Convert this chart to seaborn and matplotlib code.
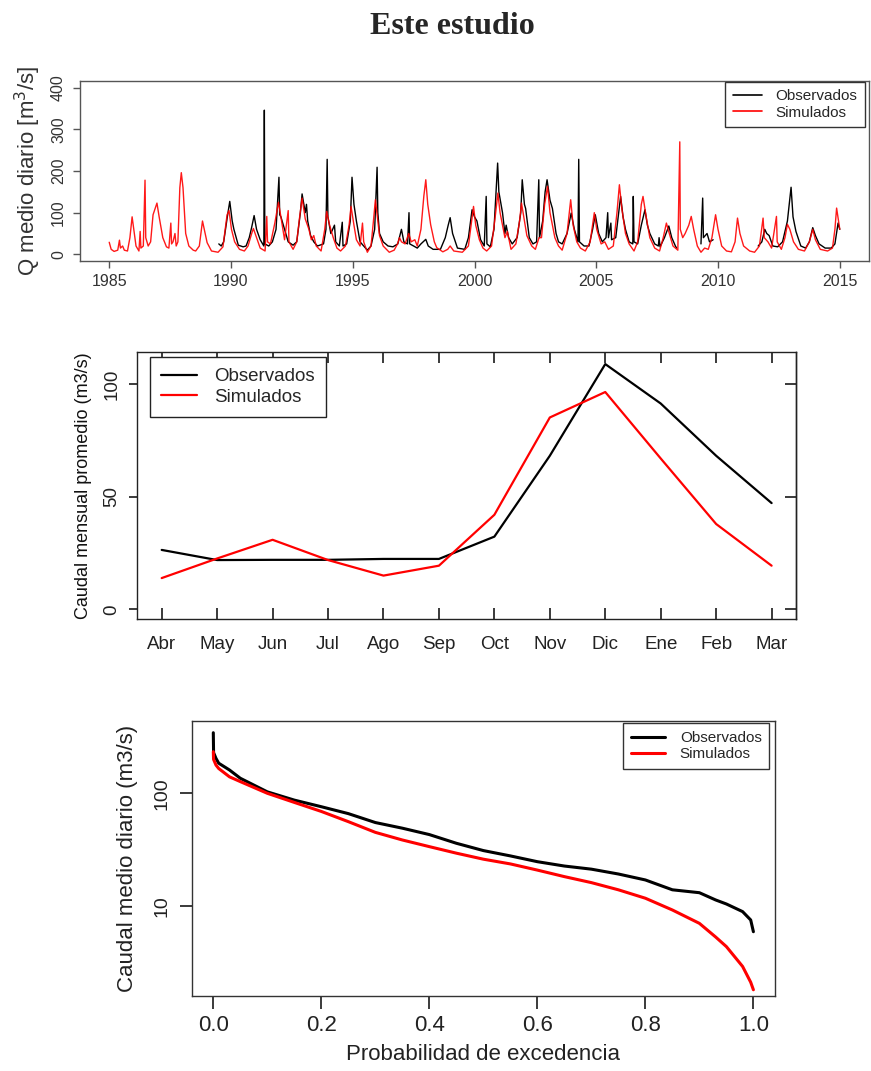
import numpy as np
import pandas as pd
import matplotlib
matplotlib.use("Agg")
import matplotlib.pyplot as plt
import seaborn as sns

sns.set_theme(style="ticks")
plt.rcParams["font.family"] = ["Liberation Sans", "DejaVu Sans"]
plt.rcParams["axes.linewidth"] = 1.0

# ---------------- Serie diaria (año decimal, m3/s) ----------------
sim_t = [1985.00, 1985.08, 1985.20, 1985.35, 1985.42, 1985.46, 1985.55, 1985.62, 1985.75, 1985.85,
         1985.94, 1986.02, 1986.10, 1986.22, 1986.27, 1986.30, 1986.40, 1986.47, 1986.50, 1986.60,
         1986.70, 1986.80, 1986.96, 1987.05, 1987.20, 1987.35, 1987.45, 1987.53, 1987.56, 1987.62,
         1987.70, 1987.75, 1987.82, 1987.90, 1987.96, 1988.03, 1988.14, 1988.27, 1988.45, 1988.55,
         1988.70, 1988.83, 1988.92, 1989.02, 1989.20, 1989.47, 1989.67, 1989.84, 1989.92, 1990.02,
         1990.15, 1990.35, 1990.55, 1990.70, 1990.85, 1990.92, 1991.05, 1991.20, 1991.40, 1991.47,
         1991.50, 1991.62, 1991.80, 1991.95, 1992.05, 1992.20, 1992.35, 1992.38, 1992.55, 1992.70,
         1992.82, 1992.92, 1993.05, 1993.20, 1993.30, 1993.40, 1993.50, 1993.70, 1993.85, 1993.93,
         1994.05, 1994.20, 1994.35, 1994.50, 1994.70, 1994.85, 1994.93, 1995.05, 1995.15, 1995.30,
         1995.40, 1995.45, 1995.60, 1995.75, 1995.85, 1995.93, 1996.05, 1996.10, 1996.25, 1996.50,
         1996.70, 1996.84, 1996.92, 1997.00, 1997.15, 1997.30, 1997.40, 1997.55, 1997.65, 1997.80,
         1997.92, 1998.00, 1998.08, 1998.20, 1998.35, 1998.45, 1998.70, 1998.90, 1999.00, 1999.15,
         1999.50, 1999.75, 1999.88, 1999.96, 2000.05, 2000.20, 2000.35, 2000.50, 2000.70, 2000.85,
         2000.96, 2001.05, 2001.25, 2001.35, 2001.50, 2001.70, 2001.85, 2001.93, 2002.05, 2002.15,
         2002.35, 2002.50, 2002.65, 2002.75, 2002.88, 2003.00, 2003.10, 2003.30, 2003.45, 2003.60,
         2003.80, 2003.95, 2004.05, 2004.20, 2004.35, 2004.55, 2004.75, 2004.92, 2005.02, 2005.20,
         2005.35, 2005.50, 2005.70, 2005.85, 2005.95, 2006.05, 2006.20, 2006.35, 2006.55, 2006.70,
         2006.85, 2006.92, 2007.05, 2007.20, 2007.40, 2007.60, 2007.75, 2007.88, 2008.00, 2008.15,
         2008.35, 2008.43, 2008.45, 2008.55, 2008.65, 2008.80, 2008.90, 2009.00, 2009.15, 2009.30,
         2009.45, 2009.60, 2009.75, 2009.90, 2010.00, 2010.15, 2010.35, 2010.55, 2010.70, 2010.80,
         2010.90, 2011.05, 2011.30, 2011.50, 2011.70, 2011.85, 2011.90, 2012.05, 2012.20, 2012.40,
         2012.43, 2012.60, 2012.75, 2012.85, 2012.95, 2013.10, 2013.30, 2013.55, 2013.75, 2013.89,
         2014.00, 2014.20, 2014.50, 2014.70, 2014.80, 2014.87, 2014.95, 2015.00]
sim_q = [29, 12, 7, 10, 34, 15, 20, 10, 8, 40,
         90, 55, 20, 8, 55, 15, 20, 178, 40, 20,
         30, 95, 123, 90, 40, 18, 15, 75, 25, 30,
         50, 20, 30, 160, 196, 160, 50, 20, 10, 8,
         20, 80, 55, 28, 8, 5, 18, 95, 105, 60,
         30, 12, 8, 20, 50, 62, 40, 15, 8, 91,
         30, 25, 75, 125, 90, 35, 105, 30, 12, 30,
         90, 135, 85, 60, 35, 45, 20, 8, 60, 103,
         70, 40, 15, 8, 20, 70, 115, 70, 35, 20,
         75, 30, 5, 20, 80, 131, 70, 45, 20, 5,
         10, 25, 40, 30, 25, 50, 30, 35, 20, 60,
         140, 179, 120, 71, 30, 16, 6, 12, 20, 8,
         5, 20, 80, 115, 70, 35, 15, 8, 20, 90,
         147, 100, 40, 55, 12, 25, 80, 123, 80, 45,
         20, 12, 40, 40, 120, 163, 100, 40, 20, 10,
         50, 131, 70, 30, 15, 8, 30, 100, 60, 25,
         30, 12, 20, 100, 167, 110, 50, 25, 8, 30,
         120, 139, 90, 40, 15, 8, 40, 75, 50, 20,
         10, 270, 60, 40, 50, 70, 91, 60, 20, 5,
         15, 12, 40, 95, 60, 20, 8, 6, 30, 87,
         50, 20, 8, 5, 20, 87, 40, 30, 15, 91,
         30, 12, 40, 72, 60, 30, 12, 8, 30, 60,
         35, 12, 8, 15, 60, 111, 80, 60]

# NaN marca los periodos sin registro observado
obs_t = [1989.50, 1989.60, 1989.70, 1989.85, 1989.95, 1990.05, 1990.12, 1990.30, 1990.50, 1990.62,
         1990.75, 1990.85, 1990.95, 1991.05, 1991.20, 1991.35, 1991.37, 1991.39, 1991.55, 1991.70,
         1991.85, 1991.97, 1992.00, 1992.05, 1992.15, 1992.35, 1992.55, 1992.70, 1992.85, 1992.92,
         1993.05, 1993.10, 1993.15, 1993.27, 1993.40, 1993.55, 1993.80, 1993.90, 1993.95, 1993.98,
         1994.10, 1994.25, 1994.30, 1994.45, 1994.57, 1994.60, 1994.75, 1994.90, 1994.97, 1995.05,
         1995.15, 1995.30, 1995.45, 1995.60, 1995.75, 1995.90, 1996.00, 1996.03, 1996.10, 1996.25,
         1996.45, 1996.65, 1996.85, 1997.00, 1997.10, 1997.25, 1997.31, 1997.34, 1997.50, 1997.65,
         1997.80, 1998.00, 1998.10, 1998.30, 1998.60, 1998.80, 1998.92, 1999.00, 1999.10, 1999.30,
         1999.60, 1999.75, 1999.90, 2000.00, 2000.10, 2000.25, 2000.40, 2000.48, 2000.51, 2000.65,
         2000.80, 2000.95, 2001.00, 2001.15, 2001.25, 2001.30, 2001.40, 2001.55, 2001.75, 2001.90,
         2001.96, 2002.05, 2002.10, 2002.25, 2002.40, 2002.55, 2002.64, 2002.67, 2002.80, 2002.90,
         2002.98, 2003.10, 2003.20, 2003.35, 2003.45, 2003.60, 2003.80, 2003.97, 2004.10, 2004.25,
         2004.28, 2004.31, 2004.50, 2004.70, 2004.85, 2004.96, 2005.10, 2005.25, 2005.40, 2005.47,
         2005.50, 2005.60, 2005.63, 2005.80, 2005.92, 2006.00, 2006.10, 2006.20, 2006.35, 2006.50,
         2006.52, 2006.55, 2006.70, 2006.85, 2007.00, 2007.10, 2007.20, 2007.40, 2007.55, 2007.58,
         2007.62, 2007.80, 2007.98, 2008.10, 2008.25, 2008.30, np.nan,
         2009.30, 2009.37, 2009.40, 2009.55, 2009.65, 2009.80, np.nan,
         2011.65, 2011.80, 2011.92, 2012.00, 2012.10, 2012.25, 2012.45, 2012.65, 2012.85, 2013.00,
         2013.08, 2013.20, 2013.40, 2013.60, 2013.75, 2013.89, 2014.00, 2014.15, 2014.40, 2014.65,
         2014.80, 2014.93, 2015.00]
obs_q = [25, 20, 30, 90, 127, 80, 60, 22, 18, 20,
         40, 65, 93, 60, 35, 20, 346, 25, 20, 30,
         60, 185, 95, 90, 70, 30, 22, 30, 100, 145,
         100, 120, 80, 45, 30, 20, 25, 60, 228, 90,
         50, 70, 30, 20, 77, 20, 25, 80, 185, 120,
         80, 30, 20, 10, 20, 60, 209, 100, 50, 30,
         20, 18, 25, 60, 30, 25, 100, 25, 20, 15,
         25, 36, 20, 12, 12, 40, 70, 88, 50, 15,
         12, 40, 107, 90, 80, 35, 20, 139, 25, 18,
         60, 219, 150, 100, 50, 70, 40, 25, 40, 100,
         179, 120, 110, 40, 25, 30, 179, 40, 80, 150,
         179, 130, 110, 50, 30, 25, 50, 99, 60, 30,
         228, 30, 20, 20, 60, 95, 50, 30, 40, 100,
         40, 75, 35, 40, 100, 139, 90, 60, 30, 25,
         139, 30, 25, 70, 107, 70, 50, 25, 20, 40,
         18, 40, 68, 40, 20, 15, np.nan,
         25, 135, 40, 50, 30, 35, np.nan,
         20, 30, 60, 50, 45, 20, 18, 30, 80, 161,
         90, 55, 20, 15, 30, 64, 45, 25, 15, 15,
         25, 75, 60]

# ---------------- Caudal mensual promedio ----------------
meses = ["Abr", "May", "Jun", "Jul", "Ago", "Sep", "Oct", "Nov", "Dic", "Ene", "Feb", "Mar"]
obs_mensual = [26.4, 21.9, 22.0, 22.0, 22.4, 22.4, 32.3, 68.2, 108.9, 91.4, 68.2, 47.2]
sim_mensual = [13.9, 22.6, 30.9, 21.9, 15.0, 19.4, 42.0, 85.2, 96.5, 67.0, 37.9, 19.4]

# ---------------- Curva de duración de caudales ----------------
prob_exc = [0.0, 0.0005, 0.005, 0.01, 0.03, 0.05, 0.10, 0.15, 0.20, 0.25, 0.30, 0.35, 0.40, 0.45,
            0.50, 0.55, 0.60, 0.65, 0.70, 0.75, 0.80, 0.85, 0.90, 0.93, 0.95, 0.98, 0.995, 1.0]
obs_cdc = [345, 230, 204, 185, 161, 136, 103, 87, 76, 66, 55, 49, 43, 36,
           31, 27.8, 24.7, 22.6, 21.2, 19.2, 17.0, 13.9, 13.1, 11.3, 10.4, 8.9, 7.5, 5.9]
sim_cdc = [234, 200, 178, 166, 140, 127, 100, 83, 69, 56, 45, 38.5, 33.6, 29.4,
           26, 23.6, 20.8, 18.2, 16.1, 13.9, 11.7, 9.2, 7.0, 5.3, 4.35, 2.9, 2.1, 1.8]

W, H = 871, 1071
fig = plt.figure(figsize=(W / 100, H / 100), dpi=100)
fig.patch.set_facecolor("white")


def ax_px(left, top, right, bottom):
    return fig.add_axes([left / W, 1 - bottom / H, (right - left) / W, (bottom - top) / H])


fig.text(452 / W, 1 - 27 / H, "Este estudio", ha="center", va="center",
         family=["Liberation Serif", "DejaVu Serif"], weight="bold", fontsize=23)

# ===== Panel 1: serie diaria =====
ax1 = ax_px(80, 81, 869, 261)
sim_df = pd.DataFrame({"t": sim_t, "q": sim_q})
obs_df = pd.DataFrame({"t": obs_t, "q": obs_q})
obs_df["tramo"] = obs_df["t"].isna().cumsum()
obs_df = obs_df.dropna()

sns.lineplot(data=obs_df, x="t", y="q", units="tramo", estimator=None, sort=False,
             color="black", lw=1.0, ax=ax1)
sns.lineplot(data=sim_df, x="t", y="q", estimator=None, sort=False,
             color="#ff0000", lw=1.0, alpha=0.9, ax=ax1)
ax1.plot([], [], color="black", lw=1.2, label="Observados")
ax1.plot([], [], color="#ff0000", lw=1.2, label="Simulados")

ax1.set_xlim(1983.8, 2016.2)
ax1.set_ylim(-16, 416)
ax1.set_xticks(range(1985, 2016, 5))
ax1.set_yticks(range(0, 401, 100))
ax1.set_xlabel("")
ax1.set_ylabel("Q medio diario [m$^3$/s]", fontsize=16, color="#333333")
ax1.yaxis.set_label_coords(-0.047, 0.5)
ax1.tick_params(axis="both", labelsize=11.5, colors="#555555", labelcolor="#333333",
                length=5, width=1, direction="out")
ax1.tick_params(axis="x", pad=4)
ax1.tick_params(axis="y", pad=5)
for lab in ax1.get_yticklabels():
    lab.set_rotation(90)
    lab.set_va("center")
for sp in ax1.spines.values():
    sp.set_color("#555555")
leg1 = ax1.legend(loc="upper right", bbox_to_anchor=(865 / W, 1 - 81.7 / H),
                  bbox_transform=fig.transFigure, borderaxespad=0, fontsize=11,
                  frameon=True, fancybox=False, edgecolor="#333333", framealpha=1,
                  handlelength=1.9, handletextpad=0.9, labelspacing=0.15, borderpad=0.5)
leg1.get_frame().set_linewidth(1.0)

# ===== Panel 2: caudal mensual promedio =====
ax2 = ax_px(137.3, 351.7, 796, 619.3)
mes_df = pd.DataFrame({"mes": meses, "Observados": obs_mensual, "Simulados": sim_mensual})
sns.lineplot(data=mes_df, x="mes", y="Observados", sort=False, color="black", lw=1.6,
             ax=ax2, label="Observados")
sns.lineplot(data=mes_df, x="mes", y="Simulados", sort=False, color="#ff0000", lw=1.6,
             ax=ax2, label="Simulados")
ax2.set_xlim(-0.44, 11.44)
ax2.set_ylim(-4.4, 114.4)
ax2.set_yticks([0, 50, 100])
ax2.set_xlabel("")
ax2.set_ylabel("Caudal mensual promedio (m3/s)", fontsize=13, color="#111111")
ax2.yaxis.set_label_coords(-0.069, 0.5)
ax2.tick_params(axis="x", labelsize=13.5, direction="in", length=8, pad=12,
                top=True, colors="#222222")
ax2.tick_params(axis="y", labelsize=13.5, direction="out", length=6, pad=6, colors="#222222")
ax2r = ax2.secondary_yaxis("right")
ax2r.set_yticks([0, 50, 100])
ax2r.tick_params(direction="in", length=8, labelright=False, colors="#222222")
ax2.tick_params(axis="y", right=False)
for lab in ax2.get_yticklabels():
    lab.set_rotation(90)
    lab.set_va("center")
for sp in ax2.spines.values():
    sp.set_color("#222222")
leg2 = ax2.legend(loc="upper left", bbox_to_anchor=(150 / W, 1 - 356.7 / H),
                  bbox_transform=fig.transFigure, borderaxespad=0, fontsize=13.5,
                  frameon=True, fancybox=False, edgecolor="#222222", framealpha=1,
                  handlelength=1.9, handletextpad=0.9, labelspacing=0.2, borderpad=0.6)
leg2.get_frame().set_linewidth(1.0)

# ===== Panel 3: curva de duración =====
ax3 = ax_px(191.7, 721, 775, 996)
cdc_df = pd.DataFrame({"p": prob_exc, "Observados": obs_cdc, "Simulados": sim_cdc})
sns.lineplot(data=cdc_df, x="p", y="Observados", sort=False, color="black", lw=2.2,
             ax=ax3, label="Observados")
sns.lineplot(data=cdc_df, x="p", y="Simulados", sort=False, color="#ff0000", lw=2.2,
             ax=ax3, label="Simulados")
ax3.set_yscale("log")
ax3.set_xlim(-0.04, 1.04)
ax3.set_ylim(10 ** 0.2, 10 ** 2.642)
ax3.set_yticks([10, 100])
ax3.set_yticklabels(["10", "100"])
ax3.yaxis.set_minor_locator(matplotlib.ticker.NullLocator())
ax3.set_xticks([0.0, 0.2, 0.4, 0.6, 0.8, 1.0])
ax3.set_xticklabels(["0.0", "0.2", "0.4", "0.6", "0.8", "1.0"])
ax3.set_xlabel("Probabilidad de excedencia", fontsize=16, color="#222222")
ax3.xaxis.set_label_coords(0.5, -0.175)
ax3.xaxis.label.set_va("top")
ax3.set_ylabel("Caudal medio diario (m3/s)", fontsize=16, color="#222222")
ax3.yaxis.set_label_coords(-0.092, 0.5)
ax3.tick_params(axis="x", labelsize=16, direction="out", length=9, pad=5, colors="#222222")
ax3.tick_params(axis="y", labelsize=14, direction="out", length=9, pad=6, colors="#222222")
for lab in ax3.get_yticklabels():
    lab.set_rotation(90)
    lab.set_va("center")
for sp in ax3.spines.values():
    sp.set_color("#333333")
leg3 = ax3.legend(loc="upper right", bbox_to_anchor=(769.3 / W, 1 - 723.3 / H),
                  bbox_transform=fig.transFigure, borderaxespad=0, fontsize=11,
                  frameon=True, fancybox=False, edgecolor="#333333", framealpha=1,
                  handlelength=2.2, handletextpad=1.0, labelspacing=0.15, borderpad=0.5)
leg3.get_frame().set_linewidth(1.0)

fig.savefig("out.png", dpi=100, facecolor="white")
